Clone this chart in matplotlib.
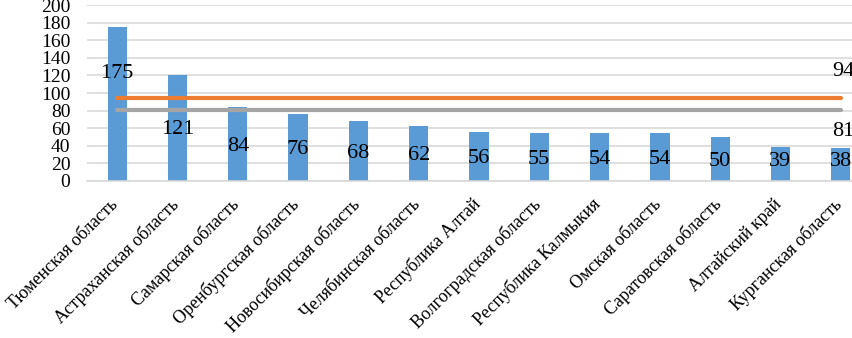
import matplotlib
matplotlib.use("Agg")
import matplotlib.pyplot as plt
import matplotlib.transforms as mtransforms
import numpy as np

plt.rcParams["font.family"] = ["Liberation Serif", "DejaVu Serif"]

regions = [
    "Тюменская область", "Астраханская область", "Самарская область",
    "Оренбургская область", "Новосибирская область", "Челябинская область",
    "Республика Алтай", "Волгоградская область", "Республика Калмыкия",
    "Омская область", "Саратовская область", "Алтайский край",
    "Курганская область",
]
values = [175, 121, 84, 76, 68, 62, 56, 55, 54, 54, 50, 39, 38]
level_orange = 94
level_gray = 81

BAR = "#5B9BD5"
ORANGE = "#ED7D31"
GRAY = "#A5A5A5"

fig = plt.figure(figsize=(8.53, 3.38), dpi=100)
ax = fig.add_axes([0.102, 0.4645, 0.919, 0.5205])

x = np.arange(len(regions))
ax.bar(x, values, width=0.32, color=BAR, zorder=2)
ax.plot(x, [level_orange] * len(x), color=ORANGE, lw=3, zorder=3,
        solid_capstyle="round")
ax.plot(x, [level_gray] * len(x), color=GRAY, lw=3, zorder=3,
        solid_capstyle="round")

# bar value labels (first one moved up above the lines, like the original)
for i, v in enumerate(values):
    y = max(v / 2 - 2.5, 22)
    if i == 0:
        y = v * 0.7
    ax.text(i, y, str(v), ha="center", va="center", fontsize=16, zorder=4)

ax.annotate(str(level_orange), (x[-1], level_orange), xytext=(2, 19),
            textcoords="offset points", ha="center", va="center", fontsize=16)
ax.annotate(str(level_gray), (x[-1], level_gray), xytext=(2, -16),
            textcoords="offset points", ha="center", va="center", fontsize=16)

ax.set_xlim(-0.5, len(regions) - 0.5)
ax.set_ylim(0, 200)
ax.set_yticks(range(0, 201, 20))
ax.yaxis.grid(True, color="#D9D9D9", lw=1.2, zorder=0)
ax.set_axisbelow(True)
for s in ["top", "right", "left"]:
    ax.spines[s].set_visible(False)
ax.spines["bottom"].set_color("#D9D9D9")
ax.spines["bottom"].set_linewidth(1.2)
ax.tick_params(axis="both", length=0)
ax.tick_params(axis="y", labelsize=14, pad=12)
ax.set_xticks(x)
ax.set_xticklabels(regions, rotation=45, ha="right", va="center",
                   rotation_mode="anchor", fontsize=13)
ax.tick_params(axis="x", pad=15)
shift = mtransforms.ScaledTranslation(-1 / 72, 0, fig.dpi_scale_trans)
for lbl in ax.get_xticklabels():
    lbl.set_transform(lbl.get_transform() + shift)

fig.savefig("out.png", dpi=100)
